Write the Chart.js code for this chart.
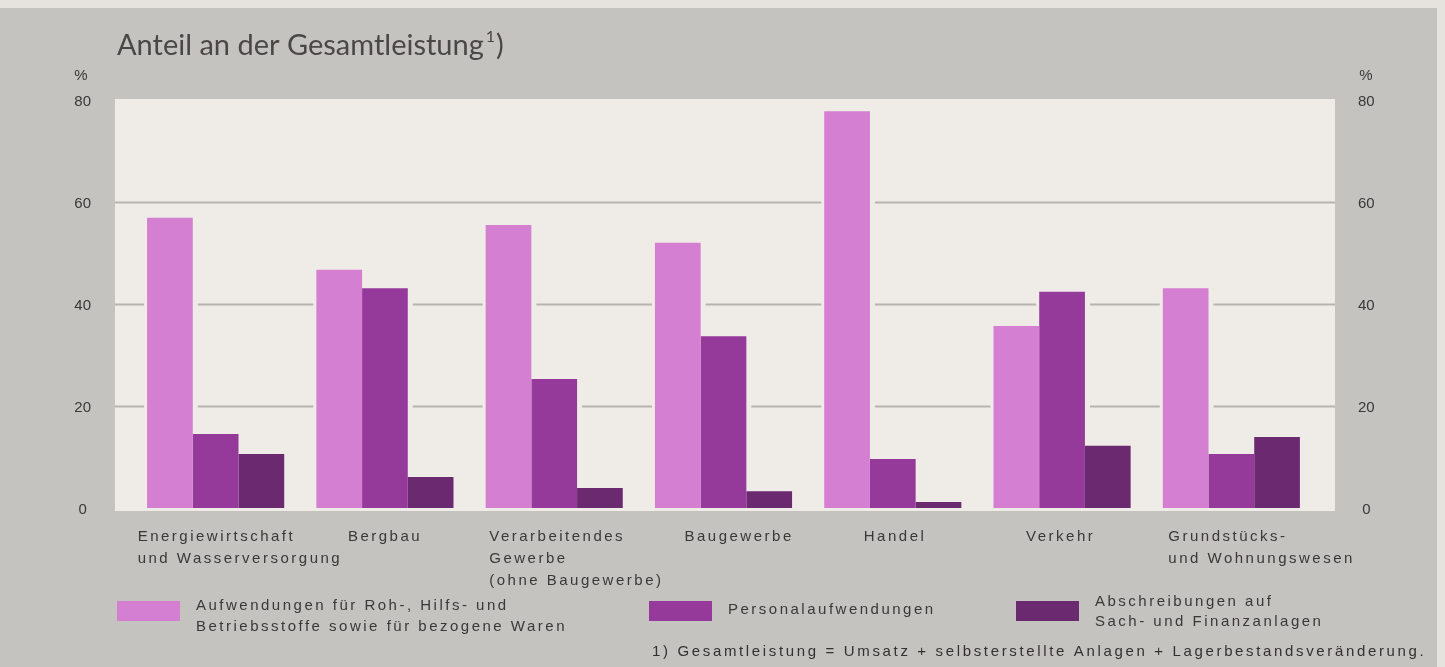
<!DOCTYPE html>
<html>
<head>
<meta charset="utf-8">
<script src="https://cdn.jsdelivr.net/npm/chart.js@4.4.1/dist/chart.umd.min.js"></script>
<style>
  html, body { margin: 0; padding: 0; background: #c5c3c0; }
  canvas { display: block; }
</style>
</head>
<body>
<canvas id="chart" width="1445" height="667"></canvas>
<script>
const categories = [
  ['Energiewirtschaft', 'und Wasserversorgung'],
  ['Bergbau'],
  ['Verarbeitendes', 'Gewerbe', '(ohne Baugewerbe)'],
  ['Baugewerbe'],
  ['Handel'],
  ['Verkehr'],
  ['Grundstücks-', 'und Wohnungswesen']
];
const materialCosts = [56.9, 46.7, 55.5, 52.0, 77.8, 35.7, 43.1];
const personnelCosts = [14.5, 43.1, 25.3, 33.7, 9.6, 42.4, 10.6];
const depreciation = [10.6, 6.1, 3.9, 3.3, 1.2, 12.2, 13.9];
const yTicks = [0, 20, 40, 60, 80];
const seriesNames = [
  ['Aufwendungen für Roh-, Hilfs- und', 'Betriebsstoffe sowie für bezogene Waren'],
  ['Personalaufwendungen'],
  ['Abschreibungen auf', 'Sach- und Finanzanlagen']
];
const titleText = 'Anteil an der Gesamtleistung';
const footnote = '1) Gesamtleistung = Umsatz + selbsterstellte Anlagen + Lagerbestandsveränderung.';

const colors = ['#d47fd2', '#953a9a', '#6b2a70'];
const PAGE = '#c5c3c0';
const PLOT = '#efebe6';
const GRID = '#b7b3ae';
const TEXT = '#3a3838';
const FONT = '"Liberation Sans", Arial, sans-serif';

// label left edge relative to category centre
const labelShift = [-78, -37, -65, -39, -29, -36, -63];
// legend layout
const legendSwatchX = [117, 649, 1016];
const legendLineY = [[606, 627], [610], [602, 622]];

const frame = {
  id: 'frame',
  beforeDraw(chart) {
    const { ctx, chartArea, scales } = chart;
    const y = scales.y;
    const left = chartArea.left - 16, right = chartArea.right + 19;
    ctx.save();
    ctx.fillStyle = PAGE;
    ctx.fillRect(0, 0, chart.width, chart.height);
    ctx.fillStyle = '#e6e3df';
    ctx.fillRect(0, 0, chart.width, 8);
    ctx.fillRect(1437, 0, 8, chart.height);
    ctx.fillStyle = PLOT;
    ctx.fillRect(left, chartArea.top - 1, right - left, chartArea.bottom - chartArea.top + 4);

    ctx.strokeStyle = GRID;
    ctx.lineWidth = 2;
    yTicks.slice(1, -1).forEach(v => {
      const py = Math.round(y.getPixelForValue(v)) + 0.5;
      ctx.beginPath();
      ctx.moveTo(left, py);
      ctx.lineTo(right, py);
      ctx.stroke();
    });

    // small gaps in the rules next to the bars
    ctx.fillStyle = PLOT;
    chart.data.datasets.forEach((ds, i) => {
      chart.getDatasetMeta(i).data.forEach(bar => {
        const x0 = bar.x - bar.width / 2;
        ctx.fillRect(x0 - 3, bar.y, bar.width + 8, bar.base - bar.y);
      });
    });
    ctx.restore();
  },
  afterDraw(chart) {
    const { ctx, scales } = chart;
    const x = scales.x;
    ctx.save();

    // title
    ctx.textBaseline = 'alphabetic';
    ctx.textAlign = 'left';
    ctx.fillStyle = '#4a4747';
    ctx.font = '400 29px Lato, "Open Sans", sans-serif';
    ctx.fillText(titleText, 117, 55);
    const tw = ctx.measureText(titleText).width;
    ctx.font = '400 16px Lato, "Open Sans", sans-serif';
    ctx.fillText('1', 117 + tw + 2, 42);
    const sw = ctx.measureText('1').width;
    ctx.font = '400 29px Lato, "Open Sans", sans-serif';
    ctx.fillText(')', 117 + tw + 3 + sw, 55);

    ctx.fillStyle = TEXT;
    ctx.textBaseline = 'middle';
    ctx.font = '15px ' + FONT;
    ctx.textAlign = 'center';
    ctx.fillText('%', 81, 76);
    ctx.fillText('%', 1366, 76);

    // category labels
    ctx.letterSpacing = '2.5px';
    ctx.textAlign = 'left';
    categories.forEach((lines, i) => {
      const cx = x.getPixelForValue(i);
      lines.forEach((t, k) => ctx.fillText(t, cx + labelShift[i], 537 + k * 22));
    });

    // legend
    seriesNames.forEach((lines, i) => {
      ctx.fillStyle = colors[i];
      ctx.fillRect(legendSwatchX[i], 601, 63, 20);
      ctx.fillStyle = TEXT;
      lines.forEach((t, k) => ctx.fillText(t, legendSwatchX[i] + 79, legendLineY[i][k]));
    });

    ctx.letterSpacing = '2.65px';
    ctx.fillStyle = '#333131';
    ctx.fillText(footnote, 652, 652);
    ctx.restore();
  }
};

const axisTicks = { crossAlign: 'center', labelOffset: 2, color: TEXT, font: { family: FONT, size: 15 } };

new Chart(document.getElementById('chart'), {
  type: 'bar',
  data: {
    labels: categories,
    datasets: [
      { label: seriesNames[0].join(' '), data: materialCosts, backgroundColor: colors[0] },
      { label: seriesNames[1].join(' '), data: personnelCosts, backgroundColor: colors[1] },
      { label: seriesNames[2].join(' '), data: depreciation, backgroundColor: colors[2] }
    ]
  },
  options: {
    responsive: false,
    devicePixelRatio: 1,
    animation: false,
    layout: { padding: { top: 100, bottom: 159, left: 0, right: 0 } },
    datasets: { bar: { barPercentage: 1, categoryPercentage: 0.81 } },
    plugins: { legend: { display: false }, tooltip: { enabled: false } },
    scales: {
      x: { display: false },
      y: {
        position: 'left',
        min: 0, max: 80,
        afterBuildTicks: s => { s.ticks = yTicks.map(v => ({ value: v })); },
        afterFit: s => { s.width = 131; },
        grid: { display: false, drawTicks: false },
        border: { display: false },
        ticks: Object.assign({ padding: 40 }, axisTicks)
      },
      y2: {
        position: 'right',
        min: 0, max: 80,
        afterBuildTicks: s => { s.ticks = yTicks.map(v => ({ value: v })); },
        afterFit: s => { s.width = 129; },
        grid: { display: false, drawTicks: false },
        border: { display: false },
        ticks: Object.assign({ padding: 42 }, axisTicks)
      }
    }
  },
  plugins: [frame]
});
</script>
</body>
</html>
